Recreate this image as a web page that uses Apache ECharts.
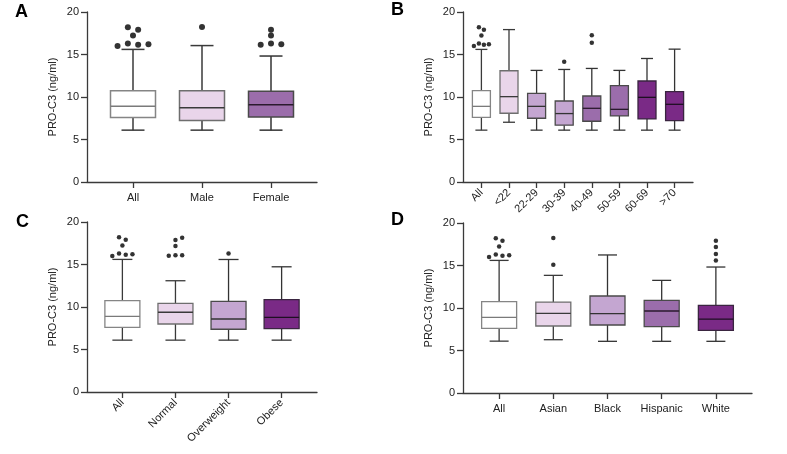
<!DOCTYPE html>
<html><head><meta charset="utf-8">
<script src="https://cdn.jsdelivr.net/npm/echarts@6/dist/echarts.min.js"></script>
<style>html,body{margin:0;padding:0;background:#fff}#c{width:787px;height:454px}</style>
</head><body><div id="c"></div><script>
// ---------- data ----------
const yTicks = [0, 5, 10, 15, 20];
const yName = 'PRO-C3 (ng/ml)';

// [lower whisker, Q1, median, Q3, upper whisker]
const boxAll = [6.1, 7.6, 8.9, 10.75, 15.6];
const outAllVals = [16.0, 16.3, 16.15, 16.2, 18.2, 17.9, 17.25];

const catsA = ['All', 'Male', 'Female'];
const boxesA = [boxAll, [6.1, 7.25, 8.75, 10.75, 16.05], [6.1, 7.65, 9.1, 10.67, 14.82]];
const outA = [...outAllVals.map(v => [0, v]), [1, 18.24], [2, 16.16], [2, 16.3], [2, 16.2], [2, 17.25], [2, 17.92]];

const catsB = ['All', '<22', '22-29', '30-39', '40-49', '50-59', '60-69', '>70'];
const boxesB = [boxAll,
  [7.03, 8.09, 10.04, 13.09, 17.93],
  [6.1, 7.5, 8.9, 10.43, 13.13],
  [6.1, 6.68, 8.05, 9.53, 13.24],
  [6.1, 7.15, 8.67, 10.12, 13.36],
  [6.1, 7.77, 8.55, 11.33, 13.13],
  [6.1, 7.42, 9.96, 11.88, 14.53],
  [6.1, 7.23, 9.14, 10.63, 15.63]];
const outB = [...outAllVals.map(v => [0, v]), [3, 14.14], [4, 17.27], [4, 16.37]];

const catsC = ['All', 'Normal', 'Overweight', 'Obese'];
const boxesC = [boxAll,
  [6.1, 8.0, 9.38, 10.43, 13.09],
  [6.1, 7.38, 8.59, 10.66, 15.59],
  [6.1, 7.46, 8.79, 10.86, 14.73]];
const outC = [...outAllVals.map(v => [0, v]), [1, 16.02], [1, 16.1], [1, 16.1], [1, 17.19], [1, 17.89], [1, 18.16], [2, 16.29]];

const catsD = ['All', 'Asian', 'Black', 'Hispanic', 'White'];
const boxesD = [boxAll,
  [6.27, 7.88, 9.37, 10.7, 13.84],
  [6.08, 8.0, 9.33, 11.41, 16.24],
  [6.08, 7.8, 9.65, 10.9, 13.25],
  [6.08, 7.37, 8.7, 10.31, 14.82]];
const outD = [...outAllVals.map(v => [0, v]), [1, 15.1], [1, 18.24], [4, 15.6], [4, 16.35], [4, 17.18], [4, 17.92]];

// ---------- layout / style (not data) ----------
const jitAll = [-1.5, -0.5, 0.5, 1.5, -0.5, 0.5, 0];
const jitA = [...jitAll, 0, -1, 0, 1, 0, 0];
const jitB = [...jitAll, 0, 0, 0];
const jitC = [...jitAll, -1, 0, 1, 0, 0, 1, 0];
const jitD = [...jitAll, 0, 0, 0, 0, 0, 0];

const FONT = '"Liberation Sans", Arial, Helvetica, sans-serif';
const S = {
  white: {fill: '#ffffff', border: '#858585', median: '#7a7a7a', whisker: '#3a3a3a'},
  pink: {fill: '#e9d5ea', border: '#6e6e6e', median: '#3a3a3a', whisker: '#3a3a3a'},
  lav: {fill: '#c4a6d1', border: '#4a4a4a', median: '#333333', whisker: '#333333'},
  mid: {fill: '#9b6dab', border: '#4a4a4a', median: '#2a1a2e', whisker: '#333333'},
  dark: {fill: '#7a2a86', border: '#3a2540', median: '#1e0f22', whisker: '#333333'}
};

const panels = [
  {letter: 'A', lx: 15, ly: 3, cats: catsA, boxes: boxesA, outs: outA, jit: jitA,
   styles: [S.white, S.pink, S.mid], grid: {left: 87, top: 12, width: 230, height: 170},
   boxW: 45, capW: 23, dot: 6, step: 10.3, rotate: 0, lw: 1.5},
  {letter: 'B', lx: 391, ly: 1, cats: catsB, boxes: boxesB, outs: outB, jit: jitB,
   styles: [S.white, S.pink, S.lav, S.lav, S.mid, S.mid, S.dark, S.dark], grid: {left: 463, top: 12, width: 230, height: 170},
   boxW: 18, capW: 12, dot: 4.5, step: 5, rotate: 45, lw: 1.3},
  {letter: 'C', lx: 16, ly: 213, cats: catsC, boxes: boxesC, outs: outC, jit: jitC,
   styles: [S.white, S.pink, S.lav, S.dark], grid: {left: 87, top: 222, width: 230, height: 170},
   boxW: 35, capW: 20, dot: 4.5, step: 6.7, rotate: 45, lw: 1.3},
  {letter: 'D', lx: 391, ly: 211, cats: catsD, boxes: boxesD, outs: outD, jit: jitD,
   styles: [S.white, S.pink, S.lav, S.mid, S.dark], grid: {left: 463, top: 223, width: 289, height: 170},
   boxW: 35, capW: 19, dot: 4.5, step: 6.7, rotate: 0, lw: 1.3}
];

// categories padded so that the gap at each end is 2/3 of the category spacing
function pad(cats) {
  const out = ['', ''];
  cats.forEach((c, i) => { out.push(c); if (i < cats.length - 1) out.push('', ''); });
  out.push('', '');
  return out;
}
const pos = i => 2 + 3 * i;

const option = {
  animation: false,
  backgroundColor: '#fff',
  textStyle: {fontFamily: FONT},
  grid: [], xAxis: [], yAxis: [], series: [], graphic: []
};

panels.forEach((p, k) => {
  const padded = pad(p.cats);
  const N = padded.length;
  const isReal = i => i >= 2 && i <= N - 3 && (i - 2) % 3 === 0;
  option.grid.push(Object.assign({containLabel: false, outerBoundsMode: 'none'}, p.grid));
  option.xAxis.push({
    type: 'category', gridIndex: k, data: padded, boundaryGap: false,
    axisLine: {show: true, lineStyle: {color: '#3a3a3a', width: 1.3}},
    axisTick: {show: true, length: 6, interval: (i) => isReal(i), lineStyle: {color: '#3a3a3a', width: 1.3}},
    axisLabel: {show: true, interval: (i) => isReal(i), rotate: p.rotate, fontSize: 11, color: '#222',
      fontFamily: FONT, margin: p.rotate ? 9 : 10},
    splitLine: {show: false}
  });
  option.xAxis.push({type: 'value', gridIndex: k, min: 0, max: N - 1, show: false, splitLine: {show: false}});
  option.yAxis.push({
    type: 'value', gridIndex: k, min: yTicks[0], max: yTicks[yTicks.length - 1], interval: yTicks[1] - yTicks[0],
    axisLine: {show: true, lineStyle: {color: '#3a3a3a', width: 1.3}},
    axisTick: {show: true, length: 6, lineStyle: {color: '#3a3a3a', width: 1.3}},
    axisLabel: {fontSize: 11, color: '#222', margin: 8, fontFamily: FONT},
    splitLine: {show: false},
    name: yName, nameLocation: 'middle', nameGap: 29, nameMoveOverlap: false,
    nameTextStyle: {fontSize: 11, color: '#222', fontFamily: FONT}
  });
  const stepUnits = p.step * (N - 1) / p.grid.width;
  option.series.push({
    type: 'custom', xAxisIndex: 2 * k, yAxisIndex: k, silent: true,
    encode: {x: 0, y: [1, 2, 3, 4, 5]},
    data: p.boxes.map((b, i) => [pos(i), ...b]),
    renderItem: (params, api) => {
      const x = api.value(0);
      const pts = [1, 2, 3, 4, 5].map(d => api.coord([x, api.value(d)]));
      const cx = pts[0][0];
      const [lo, q1, md, q3, hi] = pts.map(q => q[1]);
      const st = p.styles[params.dataIndex];
      const w = p.boxW, cw = p.capW, lw = p.lw;
      const ln = (x1, y1, x2, y2, c) => ({type: 'line', shape: {x1, y1, x2, y2}, style: {stroke: c, lineWidth: lw}});
      return {type: 'group', children: [
        ln(cx, q3, cx, hi, st.whisker),
        ln(cx, q1, cx, lo, st.whisker),
        ln(cx - cw / 2, hi, cx + cw / 2, hi, st.whisker),
        ln(cx - cw / 2, lo, cx + cw / 2, lo, st.whisker),
        {type: 'rect', shape: {x: cx - w / 2, y: q3, width: w, height: q1 - q3},
         style: {fill: st.fill, stroke: st.border, lineWidth: lw}},
        ln(cx - w / 2, md, cx + w / 2, md, st.median)
      ]};
    }
  });
  option.series.push({
    type: 'scatter', xAxisIndex: 2 * k + 1, yAxisIndex: k, silent: true,
    symbol: 'circle', symbolSize: p.dot, itemStyle: {color: '#000'},
    data: p.outs.map((o, j) => [pos(o[0]) + p.jit[j] * stepUnits, o[1]])
  });
  option.graphic.push({type: 'text', left: p.lx, top: p.ly,
    style: {text: p.letter, font: 'bold 18px ' + FONT, fill: '#000'}});
});

const chart = echarts.init(document.getElementById('c'), null, {renderer: 'canvas'});
chart.setOption(option);
</script></body></html>
